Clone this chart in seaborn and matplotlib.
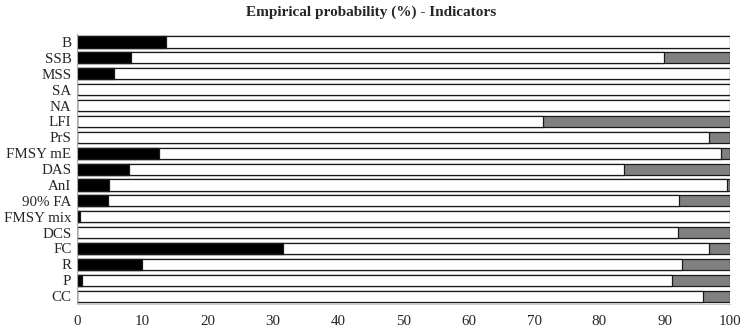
import numpy as np
import matplotlib
matplotlib.use("Agg")
import matplotlib.pyplot as plt
import seaborn as sns

indicators = ["B", "SSB", "MSS", "SA", "NA", "LFI", "PrS", "FMSY mE", "DAS", "AnI",
              "90% FA", "FMSY mix", "DCS", "FC", "R", "P", "CC"]
black = [13.6, 8.2, 5.6, 0, 0, 0, 0, 12.5, 8.0, 4.9, 4.8, 0.5, 0, 31.6, 10.0, 0.7, 0]
white = [86.4, 81.7, 94.4, 100, 100, 71.4, 96.8, 86.1, 75.8, 94.6, 87.4, 99.5, 92.0, 65.2, 82.7, 90.4, 95.8]
gray = [0, 10.1, 0, 0, 0, 28.6, 3.2, 1.4, 16.2, 0.5, 7.8, 0, 8.0, 3.2, 7.3, 8.9, 4.2]

sns.set_style("white")
plt.rcParams['font.family'] = ['Liberation Serif', 'DejaVu Serif']

fig, ax = plt.subplots(figsize=(7.43, 3.28), dpi=100)
fig.subplots_adjust(left=0.1036, right=0.9825, top=0.896, bottom=0.073)

b = np.array(black)
w = np.array(white)
g = np.array(gray)

# stacked bars: draw cumulative totals back to front
for vals, col in [(b + w + g, "#808080"), (b + w, "white"), (b, "black")]:
    sns.barplot(x=vals, y=indicators, orient="h", color=col, saturation=1,
                edgecolor="#1a1a1a", linewidth=0.9, width=0.7, ax=ax)

ax.set_xlim(0, 100)
ax.set_ylim(16.5, -0.5)
ax.set_xticks(range(0, 101, 10))
ax.set_xlabel("")
ax.set_ylabel("")
ax.tick_params(axis="both", length=0, labelsize=10.8, pad=4)
ax.tick_params(axis="x", pad=8)
for s in ["top", "right"]:
    ax.spines[s].set_visible(False)
ax.spines["left"].set_color("#aaaaaa")
ax.spines["bottom"].set_color("#cccccc")
fig.suptitle("Empirical probability (%) - Indicators", x=0.5, y=0.982,
             fontsize=11, fontweight="bold")

fig.savefig("out.png", dpi=100)
